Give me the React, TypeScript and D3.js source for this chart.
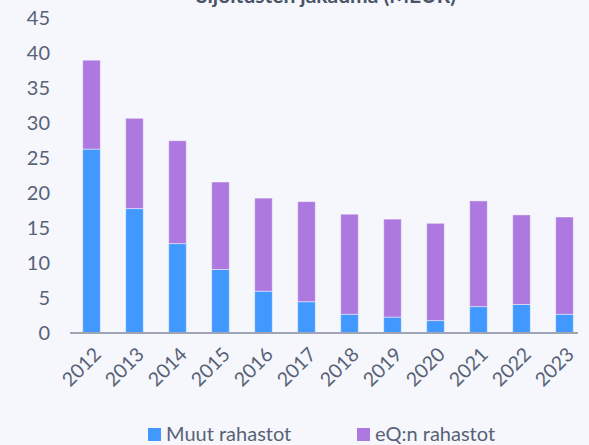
import React from "react";
import * as d3 from "d3";

const years = ["2012","2013","2014","2015","2016","2017","2018","2019","2020","2021","2022","2023"];
const muut = [26.2, 17.7, 12.7, 9.0, 5.9, 4.4, 2.6, 2.2, 1.7, 3.7, 4.0, 2.6];
const eqn = [12.7, 12.9, 14.7, 12.5, 13.3, 14.3, 14.3, 14.0, 13.9, 15.1, 12.8, 13.9];
const yTicks = [0, 5, 10, 15, 20, 25, 30, 35, 40, 45];
const seriesNames = ["Muut rahastot", "eQ:n rahastot"];
const colors = ["#4199ff", "#ad79e0"];

const W = 589, H = 445;
const FONT = "Lato, 'Open Sans', sans-serif";
const TXT = "#586277";

export default function App() {
  const x = d3.scaleBand<string>().domain(years).range([70, 586]).paddingInner(0.59).paddingOuter(0.295);
  const y = d3.scaleLinear().domain([0, 45]).range([332.5, 17.5]);
  const rows = years.map((yr, i) => ({ year: yr, muut: muut[i], eqn: eqn[i] }));
  const stack = d3.stack<any>().keys(["muut", "eqn"])(rows);

  return (
    <svg width={W} height={H} style={{ position: "absolute", left: 0, top: 0, display: "block" }} fontFamily={FONT}>
      <rect width={W} height={H} fill="#f5f7fc" />
      <text x={326} y={3} textAnchor="middle" fontSize={21} fontWeight={700} fill="#4a5368">Sijoitusten jakauma (MEUR)</text>
      {yTicks.map(t => (
        <text key={t} x={50} y={y(t)} dy="0.35em" textAnchor="end" fontSize={20} fill={TXT}>{t}</text>
      ))}
      {stack.map((s, si) => (
        <g key={si} fill={colors[si]}>
          {s.map((d, i) => (
            <rect key={i} x={x(years[i])!} width={x.bandwidth()} y={y(d[1])} height={y(d[0]) - y(d[1])}
              stroke="#ffffff" strokeOpacity={0.45} strokeWidth={1} />
          ))}
        </g>
      ))}
      <line x1={70} x2={578} y1={333} y2={333} stroke="#9ea5b4" strokeWidth={2} />
      {years.map(yr => {
        const cx = x(yr)! + x.bandwidth() / 2;
        return (
          <text key={yr} transform={`translate(${cx + 1},${346}) rotate(-45)`} textAnchor="end" fontSize={19.5} fill={TXT} dy="0.7em">{yr}</text>
        );
      })}
      {seriesNames.map((n, i) => {
        const lx = i === 0 ? 148 : 357;
        return (
          <g key={n}>
            <rect x={lx} y={428} width={13} height={13} fill={colors[i]} />
            <text x={lx + 18} y={441} fontSize={20} fill={TXT}>{n}</text>
          </g>
        );
      })}
    </svg>
  );
}
